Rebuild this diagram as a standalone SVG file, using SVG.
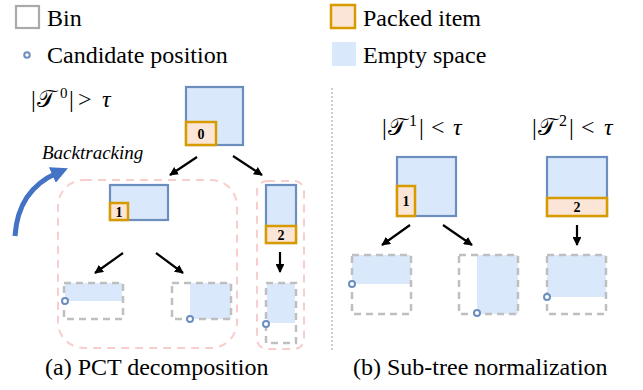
<svg xmlns="http://www.w3.org/2000/svg" width="643" height="390" viewBox="0 0 643 390">
<defs>
<style>
.t{font-family:"Liberation Serif","Times New Roman",serif;fill:#000}
.bin{fill:#dae8fc;stroke:#6c8ebf;stroke-width:2.2}
.item{fill:#fbe5d6;stroke:#d79b00;stroke-width:2.5}
.lbl{font-family:"Liberation Serif",serif;font-weight:bold;font-size:14px;text-anchor:middle}
.empty{fill:#dae8fc;stroke:none}
.leaf{fill:none;stroke:#bfbfbf;stroke-width:2.5;stroke-dasharray:7 5}
.cand{fill:#fff;stroke:#6c8ebf;stroke-width:2}
.grp{fill:none;stroke:#f8cecc;stroke-width:2;stroke-dasharray:8 6}
.arr{stroke:#000;stroke-width:2.2;fill:none;marker-end:url(#ah)}
</style>
<marker id="ah" viewBox="0 0 10 10" refX="9" refY="5" markerWidth="4" markerHeight="4" orient="auto"><path d="M0,0 L10,5 L0,10 z" fill="#000"/></marker>
<marker id="bh" viewBox="0 0 10 10" refX="3" refY="5" markerWidth="3.4" markerHeight="3.4" orient="auto"><path d="M0,0 L10,5 L0,10 z" fill="#4472c4"/></marker>
</defs>

<g id="legend">
<rect x="16" y="6" width="23" height="22" fill="#fff" stroke="#aaaaaa" stroke-width="2.2"/>
<text class="t" x="47" y="26" font-size="24">Bin</text>
<circle class="cand" cx="27" cy="55" r="2.8"/>
<text class="t" x="47" y="63" font-size="24">Candidate position</text>
<rect x="331" y="5" width="24" height="23" class="item"/>
<text class="t" x="363" y="26" font-size="24">Packed item</text>
<rect x="332" y="42" width="24" height="24" class="empty"/>
<text class="t" x="363" y="63" font-size="24">Empty space</text>
</g>

<line x1="332" y1="88" x2="332" y2="350" stroke="#cccccc" stroke-width="2" stroke-dasharray="2 2"/>

<g id="labels">
<text class="t" y="107" font-size="24"><tspan x="31">|</tspan><tspan x="37">𝒯</tspan><tspan x="60" y="98" font-size="15">0</tspan><tspan x="69" y="107">|</tspan><tspan x="78">&gt;</tspan><tspan x="102" font-style="italic">τ</tspan></text>
<text class="t" y="135" font-size="24"><tspan x="382">|</tspan><tspan x="388">𝒯</tspan><tspan x="409" y="126" font-size="16">1</tspan><tspan x="419" y="135">|</tspan><tspan x="431">&lt;</tspan><tspan x="453" font-style="italic">τ</tspan></text>
<text class="t" y="135" font-size="24"><tspan x="532">|</tspan><tspan x="538">𝒯</tspan><tspan x="559" y="126" font-size="16">2</tspan><tspan x="569" y="135">|</tspan><tspan x="581">&lt;</tspan><tspan x="604" font-style="italic">τ</tspan></text>
<text class="t" x="42" y="159" font-size="19" font-style="italic">Backtracking</text>
<text class="t" x="45" y="375" font-size="24">(a) PCT decomposition</text>
<text class="t" x="353" y="375" font-size="24">(b) Sub-tree normalization</text>
</g>

<g id="groups">
<rect x="58" y="180" width="179" height="168" rx="26" class="grp"/>
<rect x="257" y="181" width="47" height="168" rx="10" class="grp"/>
</g>

<g id="connectors">
<line class="arr" x1="197" y1="157" x2="170" y2="175"/>
<line class="arr" x1="233" y1="156" x2="262" y2="175"/>
<line class="arr" x1="123" y1="253" x2="95" y2="273"/>
<line class="arr" x1="156" y1="253" x2="183" y2="273"/>
<line class="arr" x1="280" y1="252" x2="280" y2="272"/>
<line class="arr" x1="410" y1="225" x2="382" y2="245"/>
<line class="arr" x1="443" y1="225" x2="472" y2="245"/>
<line class="arr" x1="577" y1="225" x2="577" y2="245"/>
<path d="M15,236 Q18,190 57,173" stroke="#4472c4" stroke-width="5" fill="none" marker-end="url(#bh)"/>
</g>

<g id="node0">
<rect x="186" y="87" width="57" height="58" class="bin"/>
<rect x="186" y="122" width="30" height="23" class="item"/>
<text class="lbl" x="201" y="139">0</text>
</g>
<g id="node1a">
<rect x="110" y="185" width="58" height="35" class="bin"/>
<rect x="110" y="203" width="18" height="17" class="item"/>
<text class="lbl" x="119" y="217">1</text>
</g>
<g id="node2a">
<rect x="266" y="185" width="30" height="58" class="bin"/>
<rect x="266" y="226" width="30" height="17" class="item"/>
<text class="lbl" x="281" y="240">2</text>
</g>
<g id="leaf1a">
<rect x="65" y="283" width="57" height="18" class="empty"/>
<rect x="64" y="283" width="59" height="36" class="leaf"/>
<circle class="cand" cx="65" cy="301" r="3"/>
</g>
<g id="leaf2a">
<rect x="190" y="283" width="41" height="36" class="empty"/>
<rect x="172" y="283" width="59" height="36" class="leaf"/>
<circle class="cand" cx="190" cy="319" r="3"/>
</g>
<g id="leaf3a">
<rect x="267" y="283" width="28" height="40" class="empty"/>
<rect x="266" y="283" width="30" height="60" class="leaf"/>
<circle class="cand" cx="266" cy="324" r="3"/>
</g>

<g id="node1b">
<rect x="397" y="157" width="59" height="59" class="bin"/>
<rect x="397" y="186" width="18" height="30" class="item"/>
<text class="lbl" x="406" y="206">1</text>
</g>
<g id="node2b">
<rect x="547" y="157" width="60" height="59" class="bin"/>
<rect x="547" y="198" width="60" height="18" class="item"/>
<text class="lbl" x="577" y="212">2</text>
</g>
<g id="leaf1b">
<rect x="352" y="255" width="59" height="29" class="empty"/>
<rect x="352" y="255" width="59" height="59" class="leaf"/>
<circle class="cand" cx="352" cy="284" r="3"/>
</g>
<g id="leaf2b">
<rect x="477" y="255" width="41" height="59" class="empty"/>
<rect x="459" y="255" width="59" height="59" class="leaf"/>
<circle class="cand" cx="477" cy="313" r="3"/>
</g>
<g id="leaf3b">
<rect x="547" y="255" width="59" height="42" class="empty"/>
<rect x="547" y="255" width="59" height="59" class="leaf"/>
<circle class="cand" cx="547" cy="297" r="3"/>
</g>
</svg>
